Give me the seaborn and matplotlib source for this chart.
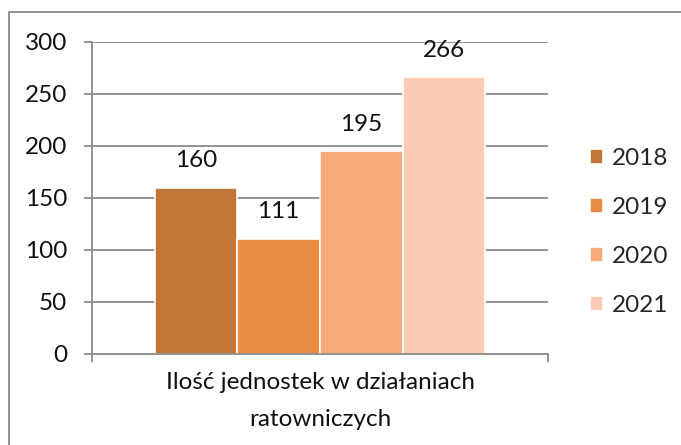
import matplotlib
matplotlib.use("Agg")
import matplotlib.pyplot as plt
import matplotlib.patches as mpatches
import seaborn as sns
import pandas as pd

# Data
category = "Ilość jednostek w działaniach\nratowniczych"
years = ["2018", "2019", "2020", "2021"]
values = [160, 111, 195, 266]
colors = ["#C17536", "#E78C42", "#F5AA78", "#F8CBB2"]
y_ticks = [0, 50, 100, 150, 200, 250, 300]

df = pd.DataFrame({"cat": [category] * len(years), "year": years, "value": values})

sns.set_theme(style="white")
plt.rcParams["font.family"] = ["Lato", "DejaVu Sans"]

FS = 17.5
TXT = "#111111"
GRID = "#8A8A8A"

W, H = 681, 445
fig = plt.figure(figsize=(W / 100, H / 100), dpi=100)
ax = fig.add_axes([92 / W, 1 - 354 / H, (548 - 92) / W, (354 - 42) / H])

sns.barplot(data=df, x="cat", y="value", hue="year", palette=colors,
            width=0.724, gap=0, dodge=True, ax=ax, legend=True,
            edgecolor="white", linewidth=1.2, saturation=1)

ax.set_xlim(-0.5, 0.5)
ax.set_ylim(0, 300)
ax.set_yticks(y_ticks)
ax.set_yticklabels([str(t) for t in y_ticks], fontsize=FS, color=TXT)
ax.set_axisbelow(True)
ax.yaxis.grid(True, color=GRID, linewidth=1.3)
ax.xaxis.grid(False)

# Category label and axis ticks
ax.set_xticks([-0.5, 0.5], minor=False)
ax.set_xticklabels([])
ax.tick_params(axis="x", which="major", length=6, width=1.3, color=GRID,
               direction="out", bottom=True)
ax.tick_params(axis="y", length=6, width=1.3, color=GRID,
               direction="out", left=True, pad=12)
ax.set_xticks([0], minor=True)
ax.set_xticklabels([category], minor=True, fontsize=FS, color=TXT,
                   linespacing=1.95)
ax.tick_params(axis="x", which="minor", length=0, pad=13)
ax.set_xlabel("")
ax.set_ylabel("")

for side in ["top", "right"]:
    ax.spines[side].set_visible(False)
for side in ["left", "bottom"]:
    ax.spines[side].set_color(GRID)
    ax.spines[side].set_linewidth(1.3)

# Value labels
for cont in ax.containers:
    ax.bar_label(cont, fmt="%d", padding=12, fontsize=FS, color=TXT)

# Legend
handles, labels = ax.get_legend_handles_labels()
ax.legend(handles, labels, loc="center left", bbox_to_anchor=(1.071, 0.39),
          frameon=False, fontsize=FS, handlelength=0.55, handleheight=0.55,
          handletextpad=0.35, labelspacing=1.15, borderaxespad=0)

# Chart frame
fig.patches.append(mpatches.Rectangle((9 / W, -0.1), 1.2, 1 - 12 / H + 0.1,
                                      transform=fig.transFigure, fill=False,
                                      edgecolor=GRID, linewidth=1.3))

fig.savefig("out.png", dpi=100)
